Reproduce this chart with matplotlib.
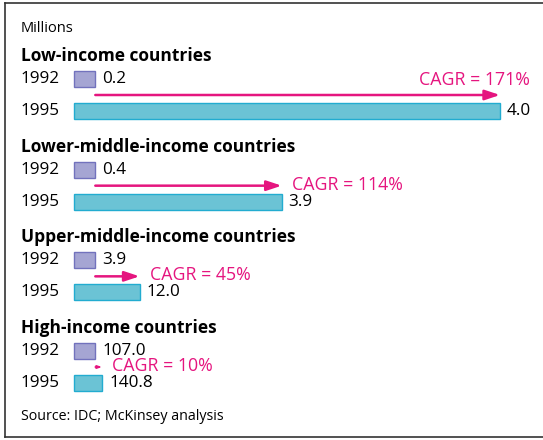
import matplotlib
matplotlib.use("Agg")
import matplotlib.pyplot as plt

# ---- data ----
groups = ["Low-income countries", "Lower-middle-income countries",
          "Upper-middle-income countries", "High-income countries"]
years = ["1992", "1995"]
values_1992 = [0.2, 0.4, 3.9, 107.0]
values_1995 = [4.0, 3.9, 12.0, 140.8]
cagr_labels = ["CAGR = 171%", "CAGR = 114%", "CAGR = 45%", "CAGR = 10%"]

# ---- style ----
C92, E92 = "#a5a5d3", "#7272bd"
C95, E95 = "#6bc3d5", "#22acd0"
MAG = "#e5157f"
FONT = "Open Sans"
plt.rcParams["font.family"] = [FONT, "DejaVu Sans"]

W, H = 543, 440
fig = plt.figure(figsize=(W / 100, H / 100), dpi=100)
ax = fig.add_axes([0, 0, 1, 1])

px_per_unit = 21.3      # pixels per unit of growth ratio (bar scale)
x0 = 74                 # left of bars in pixels
ax.set_xlim(-x0 / px_per_unit, (W - x0) / px_per_unit)
ax.set_ylim(H, 0)
ax.axis("off")

def px(dx):
    return dx / px_per_unit

# frame (left, top, bottom)
fx0, fx1 = px(5 - x0), px(W + 20 - x0)
ax.plot([fx0, fx0], [3.5, 437.5], color="#333333", lw=1.2, clip_on=False)
ax.plot([fx0, fx1], [3.5, 3.5], color="#333333", lw=1.2, clip_on=False)
ax.plot([fx0, fx1], [437.5, 437.5], color="#333333", lw=1.2, clip_on=False)

ax.text(px(21 - x0), 28, "Millions", fontsize=10.5, va="center", ha="left")
ax.text(px(21 - x0), 417, "Source: IDC; McKinsey analysis", fontsize=10.3,
        va="center", ha="left")

for i, g in enumerate(groups):
    top = 56 + 90.67 * i
    y92, y95 = top + 23, top + 55
    ax.text(px(21 - x0), top, g, fontsize=12.5, fontweight="bold",
            va="center", ha="left")
    for yy, yr in zip((y92, y95), years):
        ax.text(px(21 - x0), yy, yr, fontsize=12.3, va="center", ha="left")
    r92 = values_1992[i] / values_1992[i]
    r95 = values_1995[i] / values_1992[i]
    ax.barh([y92], [r92], height=16, left=0, color=C92, edgecolor=E92,
            linewidth=1)
    ax.barh([y95], [r95], height=16, left=0, color=C95, edgecolor=E95,
            linewidth=1)
    ax.text(r92 + px(7), y92, f"{values_1992[i]:.1f}", fontsize=12.3,
            va="center", ha="left")
    ax.text(r95 + px(7), y95, f"{values_1995[i]:.1f}", fontsize=12.3,
            va="center", ha="left")
    ya = (y92 + y95) / 2
    length_px = (r95 - r92) * px_per_unit
    hl = min(0.9, 0.5 * length_px * 0.72 / 10)
    hw = min(0.3, hl * 0.35)
    ax.annotate("", xy=(r95, ya), xytext=(r92, ya),
                arrowprops=dict(arrowstyle=f"-|>,head_length={hl},head_width={hw}",
                                color=MAG, lw=1.8 if length_px > 20 else 1.2,
                                shrinkA=0, shrinkB=0))
    if i == 0:
        ax.text(r95 + px(30), ya - 15, cagr_labels[i], fontsize=12.8,
                color=MAG, va="center", ha="right")
    else:
        ax.text(r95 + px(10), ya - 1, cagr_labels[i], fontsize=12.8,
                color=MAG, va="center", ha="left")

fig.savefig("out.png", dpi=100)
